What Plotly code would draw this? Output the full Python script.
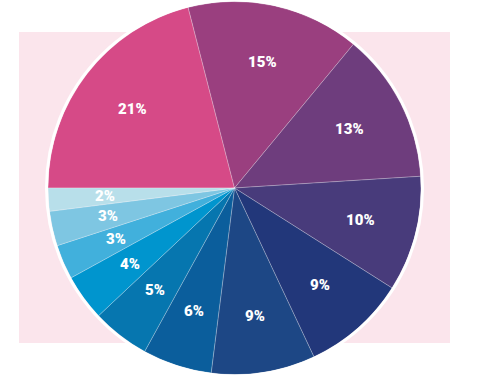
import math
import plotly.graph_objects as go

labels = ["A", "B", "C", "D", "E", "F", "G", "H", "I", "J", "K", "L"]
values = [21, 15, 13, 10, 9, 9, 6, 5, 4, 3, 3, 2]
colors = ["#D64A87", "#9A3F7F", "#6E3D7D", "#483B7B", "#22377A", "#1D4785",
          "#0B5E9C", "#0676AF", "#0095CE", "#41B0DC", "#7EC6E2", "#B8DFEA"]

W, H = 496, 388
cx, cy, R = 234.5, 188.0, 186.5
start_deg = 270

fig = go.Figure()
fig.add_trace(go.Pie(
    labels=labels, values=values, sort=False, direction="clockwise",
    rotation=start_deg,
    marker=dict(colors=colors, line=dict(color="rgba(255,255,255,0.35)", width=0.7)),
    textinfo="none", hoverinfo="skip", showlegend=False,
    domain=dict(x=[(cx - R) / W, (cx + R) / W], y=[1 - (cy + R) / H, 1 - (cy - R) / H]),
))

# labels placed at slice mid-angles
total = sum(values)
cum = 0
annotations = []
for v in values:
    mid = math.radians(start_deg + (cum + v / 2) / total * 360)
    cum += v
    rr = 0.695 * R
    px = cx + rr * math.sin(mid)
    py = cy - rr * math.cos(mid)
    annotations.append(dict(
        x=px / W, y=1 - py / H, xref="paper", yref="paper",
        text=f"{round(v / total * 100)}%", showarrow=False,
        font=dict(family="Roboto, Liberation Sans, sans-serif",
                  size=15, color="white", weight=900),
        xanchor="center", yanchor="middle",
    ))

shapes = [
    dict(type="rect", xref="paper", yref="paper", layer="below",
         x0=19 / W, x1=450 / W, y0=1 - 343 / H, y1=1 - 32 / H,
         fillcolor="#FBE5EC", line=dict(width=0)),
    dict(type="circle", xref="paper", yref="paper", layer="above",
         x0=(cx - R - 1.5) / W, x1=(cx + R + 1.5) / W,
         y0=1 - (cy + R + 1.5) / H, y1=1 - (cy - R - 1.5) / H,
         line=dict(color="white", width=3)),
]

fig.update_layout(
    width=W, height=H, margin=dict(l=0, r=0, t=0, b=0),
    paper_bgcolor="white", plot_bgcolor="white",
    shapes=shapes, annotations=annotations, showlegend=False,
)
fig.write_html("out.html", config={"displayModeBar": False},
               post_script="document.body.style.margin='0';")
